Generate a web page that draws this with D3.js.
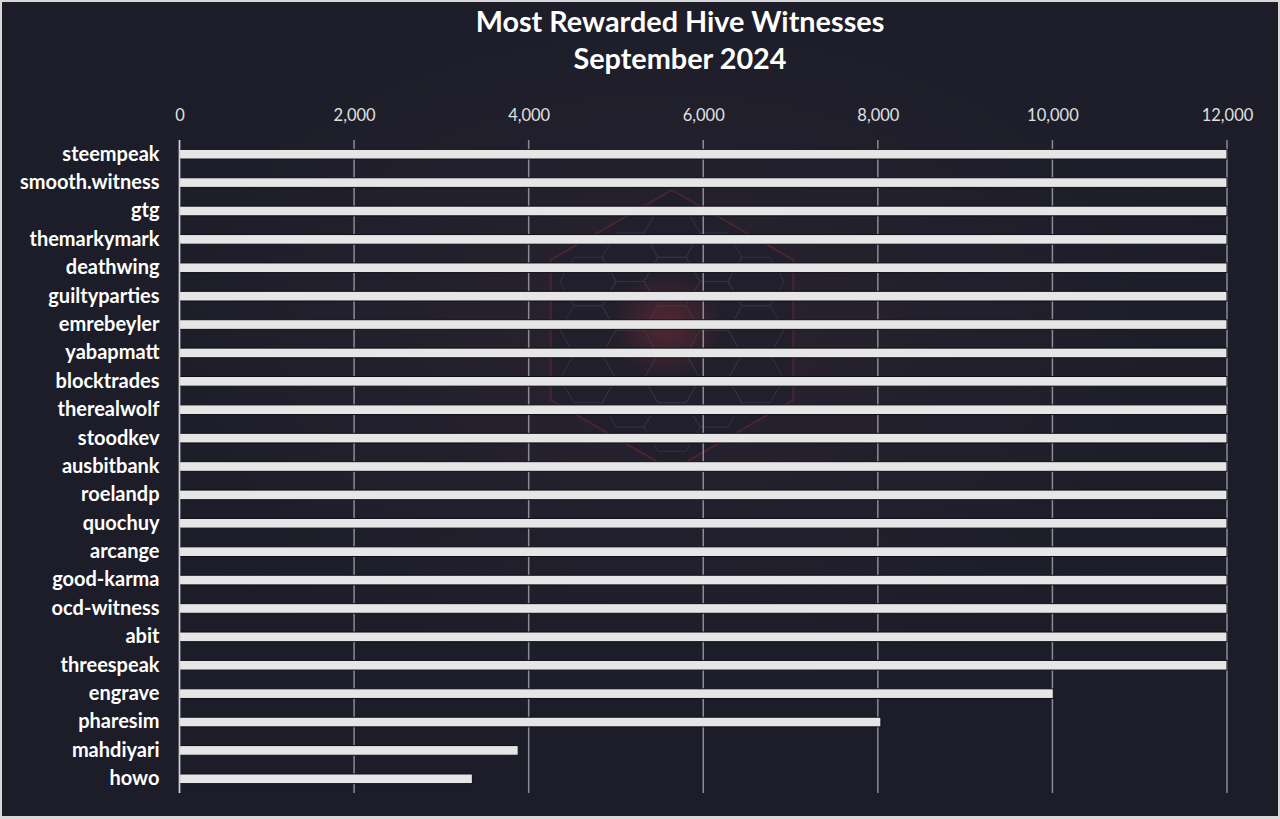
<!DOCTYPE html>
<html><head><meta charset="utf-8">
<script src="https://cdn.jsdelivr.net/npm/d3@7"></script>
<style>html,body{margin:0;padding:0;background:#d9d9d9;overflow:hidden}</style>
</head><body>
<svg id="c" width="1280" height="819"></svg>
<script>
const witnesses = ["steempeak","smooth.witness","gtg","themarkymark","deathwing","guiltyparties","emrebeyler","yabapmatt","blocktrades","therealwolf","stoodkev","ausbitbank","roelandp","quochuy","arcange","good-karma","ocd-witness","abit","threespeak","engrave","pharesim","mahdiyari","howo"];
const rewards = [12000,12000,12000,12000,12000,12000,12000,12000,12000,12000,12000,12000,12000,12000,12000,12000,12000,12000,12000,10010,8035,3880,3355];
const tickValues = [0,2000,4000,6000,8000,10000,12000];
const titleLines = ["Most Rewarded Hive Witnesses","September 2024"];

const svg = d3.select("#c");
const W = 1280, H = 819;
const defs = svg.append("defs");
const bg = defs.append("radialGradient").attr("id","glow").attr("cx","0.52").attr("cy","0.42").attr("r","0.45");
bg.append("stop").attr("offset","0%").attr("stop-color","#2e2230");
bg.append("stop").attr("offset","50%").attr("stop-color","#22202c");
bg.append("stop").attr("offset","100%").attr("stop-color","#1c1d29");
const lg = defs.append("linearGradient").attr("id","base").attr("x1","0").attr("y1","0").attr("x2","0").attr("y2","1");
lg.append("stop").attr("offset","0%").attr("stop-color","#1f2029");
lg.append("stop").attr("offset","100%").attr("stop-color","#1b1c28");
const rg = defs.append("radialGradient").attr("id","core");
rg.append("stop").attr("offset","0%").attr("stop-color","#6a2a35").attr("stop-opacity",0.7);
rg.append("stop").attr("offset","100%").attr("stop-color","#6a2a35").attr("stop-opacity",0);

svg.append("rect").attr("x",0).attr("y",0).attr("width",W).attr("height",H).attr("fill","#d9d9d9");
svg.append("rect").attr("x",2).attr("y",2).attr("width",W-4).attr("height",H-5).attr("fill","url(#base)");
svg.append("rect").attr("x",2).attr("y",2).attr("width",W-4).attr("height",H-5).attr("fill","url(#glow)").attr("opacity",0.9);

// decorative faint hexagon artwork (background)
const cx = 672, cy = 330, R = 140;
const hexPts = (x0,y0,r) => d3.range(6).map(i => { const a = Math.PI/3*i - Math.PI/2; return [x0+r*Math.cos(a), y0+r*Math.sin(a)]; });
svg.append("polygon").attr("points", hexPts(cx,cy,R).map(p=>p.join(",")).join(" "))
  .attr("fill","#1f1f2b").attr("stroke","#5a2633").attr("stroke-width",2).attr("opacity",0.7);
const cells = svg.append("g").attr("opacity",0.35);
const rc = 28;
for (let row=-3; row<=3; row++) {
  for (let col=-3; col<=3; col++) {
    const px = cx + col*rc*1.5, py = cy + row*rc*Math.sqrt(3) + (Math.abs(col)%2 ? rc*Math.sqrt(3)/2 : 0);
    if (Math.hypot(px-cx,py-cy) > R-30) continue;
    const pts = d3.range(6).map(i => { const a = Math.PI/3*i; return [px+rc*Math.cos(a), py+rc*Math.sin(a)]; });
    cells.append("polygon").attr("points", pts.map(p=>p.join(",")).join(" ")).attr("fill","none").attr("stroke","#555a6a").attr("stroke-width",1);
  }
}
svg.append("circle").attr("cx",cx-5).attr("cy",cy-5).attr("r",55).attr("fill","url(#core)");

const x = d3.scaleLinear().domain([0,12000]).range([179.5,1227]);
const y = d3.scaleBand().domain(witnesses).range([140,793]).paddingInner(0.66).paddingOuter(0.33);

// gridlines
svg.append("g").selectAll("line").data(tickValues).join("line")
  .attr("x1",d=>x(d)).attr("x2",d=>x(d)).attr("y1",140).attr("y2",793)
  .attr("stroke","#b0b0b8").attr("stroke-width",1.5).attr("opacity",0.75);

// axis labels on top
const ax = svg.append("g").attr("transform","translate(0,117)")
  .call(d3.axisTop(x).tickValues(tickValues).tickFormat(d3.format(",")).tickSize(0).tickPadding(0));
ax.select(".domain").remove();
ax.selectAll("text").attr("fill","#e0e0e0").attr("font-family","Lato, 'Open Sans', sans-serif")
  .attr("font-size",16.5).attr("dominant-baseline","middle").attr("dy",0);

// bars
svg.append("g").selectAll("rect").data(witnesses).join("rect")
  .attr("x",x(0)).attr("y",d=>y(d)).attr("width",(d,i)=>x(Math.min(rewards[i],12000))-x(0))
  .attr("height",y.bandwidth()).attr("fill","#e6e6e6").attr("stroke","#0e0f16").attr("stroke-width",1);

// y-axis line
svg.append("line").attr("x1",x(0)).attr("x2",x(0)).attr("y1",140).attr("y2",793)
  .attr("stroke","#d0d0d8").attr("stroke-width",1.5);

// category labels
const ya = svg.append("g").attr("transform",`translate(${x(0)-20},0)`)
  .call(d3.axisLeft(y).tickSize(0).tickPadding(0));
ya.select(".domain").remove();
ya.selectAll("text").attr("fill","#ffffff").attr("font-family","Lato, 'Open Sans', sans-serif")
  .attr("font-weight","bold").attr("font-size",20).attr("dy","0.32em");

// title
svg.append("g").selectAll("text").data(titleLines).join("text")
  .attr("x",680).attr("y",(d,i)=>25+i*37).attr("text-anchor","middle").attr("dominant-baseline","middle")
  .attr("fill","#ffffff").attr("font-family","Lato, 'Open Sans', sans-serif").attr("font-weight","bold")
  .attr("font-size",28.8).text(d=>d);
</script>
</body></html>
